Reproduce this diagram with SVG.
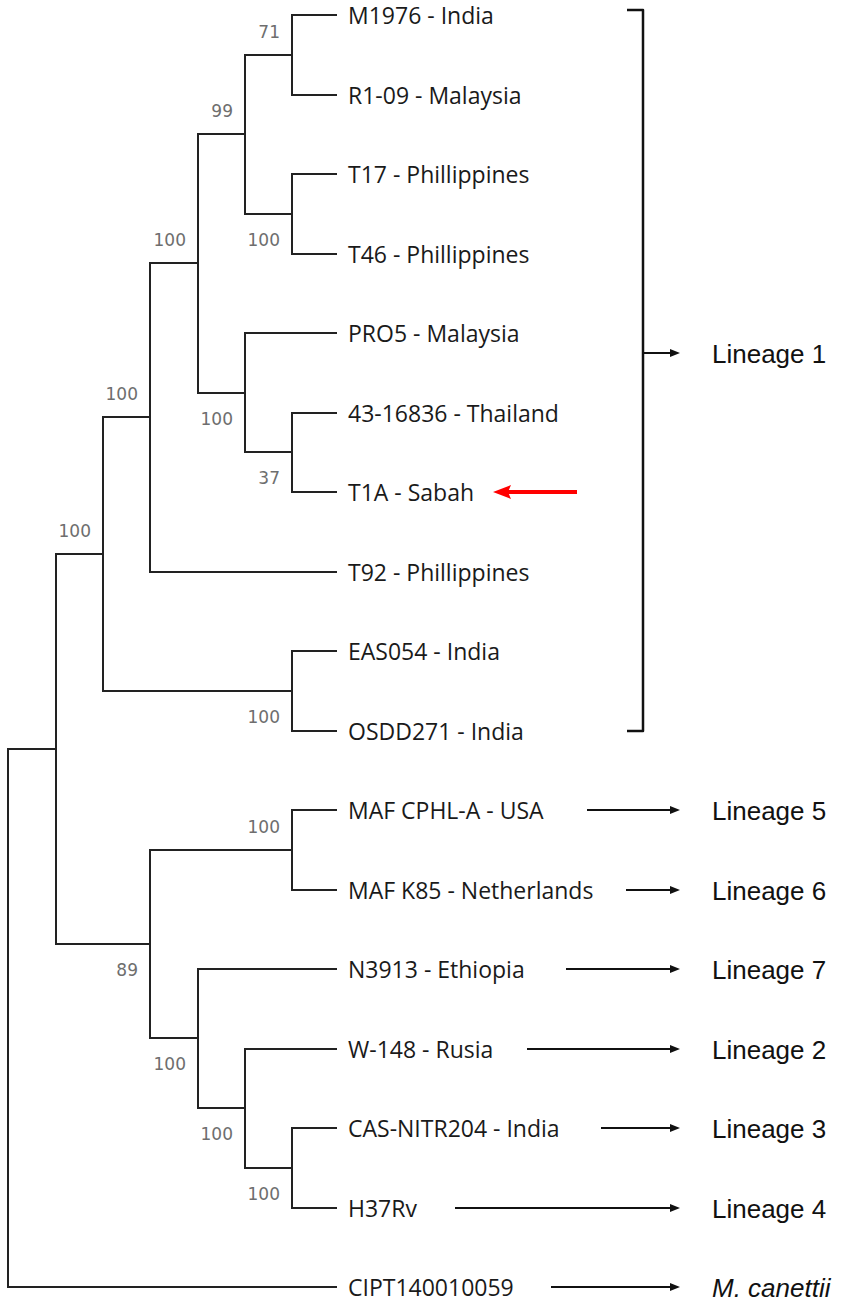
<svg xmlns="http://www.w3.org/2000/svg" width="846" height="1301" viewBox="0 0 846 1301">
<style>
.tree{fill:none;stroke:#222;stroke-width:2;stroke-linecap:square}
.bs{font-family:"DejaVu Sans",sans-serif;font-size:17px;fill:#6e6e6e;text-anchor:end}
.leaf{font-family:"Open Sans","Liberation Sans",Arial,sans-serif;font-size:23px;fill:#1a1a1a}
.lin{font-family:"Liberation Sans",Arial,sans-serif;font-size:26px;fill:#111}
.arr{stroke:#111;stroke-width:2;fill:none}
.brk{fill:none;stroke:#111;stroke-width:2.5;stroke-linejoin:round}
</style>
<defs>
<marker id="ah" markerUnits="userSpaceOnUse" markerWidth="10" markerHeight="8" refX="4" refY="4" orient="auto"><path d="M0,0 L10,4 L0,8 z" fill="#111"/></marker>
</defs>
<rect width="846" height="1301" fill="#fff"/>
<g id="connectors">
<path class="tree" d="M336,15 H292 V95 H336"/>
<path class="tree" d="M336,174 H292 V254 H336"/>
<path class="tree" d="M292,55 H245 V214 H292"/>
<path class="tree" d="M336,413 H292 V492 H336"/>
<path class="tree" d="M336,333 H245 V452 H292"/>
<path class="tree" d="M245,134 H198 V393 H245"/>
<path class="tree" d="M198,263 H150 V572 H336"/>
<path class="tree" d="M336,651 H292 V731 H336"/>
<path class="tree" d="M150,417 H103 V691 H292"/>
<path class="tree" d="M336,810 H292 V890 H336"/>
<path class="tree" d="M336,1128 H292 V1208 H336"/>
<path class="tree" d="M336,1049 H245 V1168 H292"/>
<path class="tree" d="M336,969 H198 V1108 H245"/>
<path class="tree" d="M292,850 H150 V1038 H198"/>
<path class="tree" d="M103,554 H56 V944 H150"/>
<path class="tree" d="M56,749 H8 V1287 H336"/>
<path class="brk" d="M627,10 H643 V731 H627"/>
<line class="arr" x1="643" y1="353" x2="674" y2="353" marker-end="url(#ah)"/>
<line class="arr" x1="587" y1="810" x2="674" y2="810" marker-end="url(#ah)"/>
<line class="arr" x1="626" y1="890" x2="674" y2="890" marker-end="url(#ah)"/>
<line class="arr" x1="566" y1="969" x2="674" y2="969" marker-end="url(#ah)"/>
<line class="arr" x1="527" y1="1049" x2="674" y2="1049" marker-end="url(#ah)"/>
<line class="arr" x1="601" y1="1128" x2="674" y2="1128" marker-end="url(#ah)"/>
<line class="arr" x1="455" y1="1208" x2="674" y2="1208" marker-end="url(#ah)"/>
<line class="arr" x1="551" y1="1287" x2="674" y2="1287" marker-end="url(#ah)"/>
<g id="red-arrow">
<line x1="577" y1="492" x2="505" y2="492" stroke="#f00" stroke-width="4"/>
<polygon points="493,492 511,485 508,492 511,499" fill="#f00"/>
</g>
</g>
<g id="bootstrap">
<text class="bs" x="280" y="38">71</text>
<text class="bs" x="280" y="246">100</text>
<text class="bs" x="233" y="117">99</text>
<text class="bs" x="280" y="484">37</text>
<text class="bs" x="233" y="425">100</text>
<text class="bs" x="186" y="246">100</text>
<text class="bs" x="138" y="400">100</text>
<text class="bs" x="280" y="723">100</text>
<text class="bs" x="91" y="537">100</text>
<text class="bs" x="280" y="833">100</text>
<text class="bs" x="138" y="976">89</text>
<text class="bs" x="186" y="1070">100</text>
<text class="bs" x="233" y="1140">100</text>
<text class="bs" x="280" y="1200">100</text>
</g>
<g id="leaf-M1976"><text class="leaf" x="348" y="24">M1976 - India</text></g>
<g id="leaf-R1-09"><text class="leaf" x="348" y="104">R1-09 - Malaysia</text></g>
<g id="leaf-T17"><text class="leaf" x="348" y="183">T17 - Phillippines</text></g>
<g id="leaf-T46"><text class="leaf" x="348" y="263">T46 - Phillippines</text></g>
<g id="leaf-PRO5"><text class="leaf" x="348" y="342">PRO5 - Malaysia</text></g>
<g id="leaf-43-16836"><text class="leaf" x="348" y="422">43-16836 - Thailand</text></g>
<g id="leaf-T1A"><text class="leaf" x="348" y="501">T1A - Sabah</text></g>
<g id="leaf-T92"><text class="leaf" x="348" y="581">T92 - Phillippines</text></g>
<g id="leaf-EAS054"><text class="leaf" x="348" y="660">EAS054 - India</text></g>
<g id="leaf-OSDD271"><text class="leaf" x="348" y="740">OSDD271 - India</text></g>
<g id="leaf-MAF-CPHL-A"><text class="leaf" x="348" y="819">MAF CPHL-A - USA</text></g>
<g id="leaf-MAF-K85"><text class="leaf" x="348" y="899">MAF K85 - Netherlands</text></g>
<g id="leaf-N3913"><text class="leaf" x="348" y="978">N3913 - Ethiopia</text></g>
<g id="leaf-W-148"><text class="leaf" x="348" y="1058">W-148 - Rusia</text></g>
<g id="leaf-CAS-NITR204"><text class="leaf" x="348" y="1137">CAS-NITR204 - India</text></g>
<g id="leaf-H37Rv"><text class="leaf" x="348" y="1217">H37Rv</text></g>
<g id="leaf-CIPT140010059"><text class="leaf" x="348" y="1296">CIPT140010059</text></g>
<g id="lineage-1"><text class="lin" x="712" y="362.5">Lineage 1</text></g>
<g id="lineage-5"><text class="lin" x="712" y="819.5">Lineage 5</text></g>
<g id="lineage-6"><text class="lin" x="712" y="899.5">Lineage 6</text></g>
<g id="lineage-7"><text class="lin" x="712" y="978.5">Lineage 7</text></g>
<g id="lineage-2"><text class="lin" x="712" y="1058.5">Lineage 2</text></g>
<g id="lineage-3"><text class="lin" x="712" y="1137.5">Lineage 3</text></g>
<g id="lineage-4"><text class="lin" x="712" y="1217.5">Lineage 4</text></g>
<g id="m-canettii"><text class="lin" x="712" y="1296.5" font-style="italic">M. canettii</text></g>
</svg>
